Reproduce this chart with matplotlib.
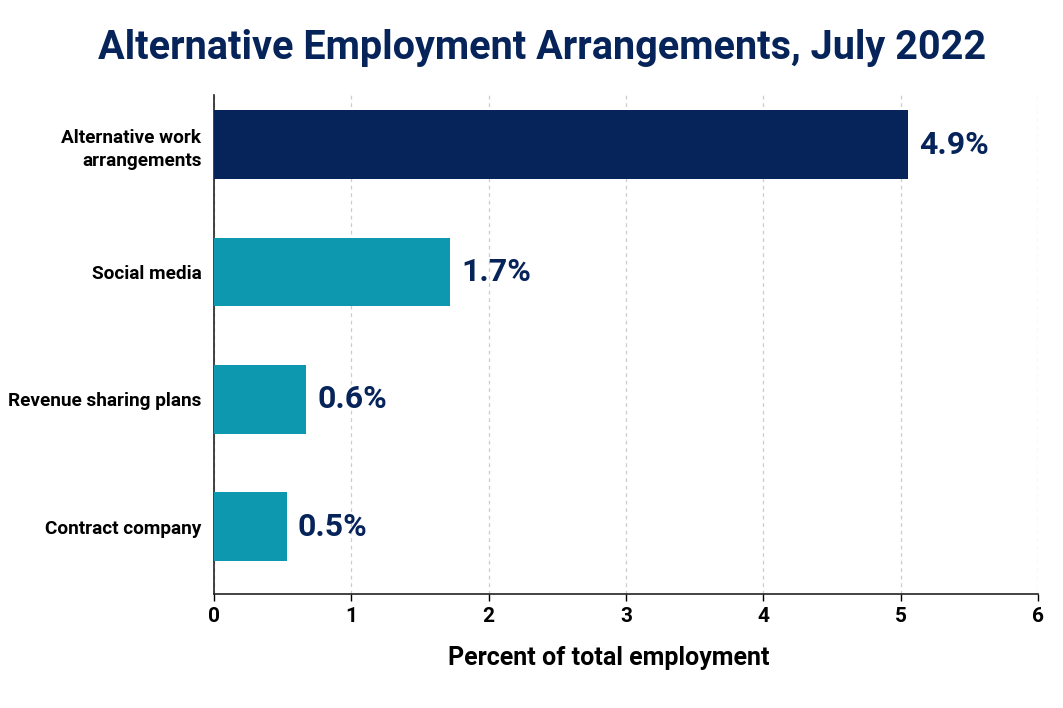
import matplotlib
matplotlib.use("Agg")
import matplotlib.pyplot as plt

categories = ["Alternative work\narrangements", "Social media", "Revenue sharing plans", "Contract company"]
bar_values = [5.05, 1.72, 0.67, 0.53]
value_labels = ["4.9%", "1.7%", "0.6%", "0.5%"]
xticks = [0, 1, 2, 3, 4, 5, 6]

NAVY = "#06245a"
TEAL = "#0e98b0"
colors = [NAVY, TEAL, TEAL, TEAL]

plt.rcParams['font.family'] = ['Roboto', 'DejaVu Sans']

fig = plt.figure(figsize=(10.63, 7.08), dpi=100)
ax = fig.add_axes([0.2013, 0.161, 0.7752, 0.7048])

y = list(range(len(categories)))
ax.barh(y, bar_values, height=0.54, color=colors, zorder=3)
for yi, v, lab in zip(y, bar_values, value_labels):
    ax.annotate(lab, (v, yi), xytext=(8, 0), textcoords="offset points",
                va="center", ha="left", fontsize=23, fontweight="bold", color=NAVY)

ax.set_xlim(0, 6)
ax.set_ylim(3.53, -0.39)
ax.set_xticks(xticks)
ax.set_xticklabels([str(t) for t in xticks], fontsize=15, fontweight="bold")
ax.set_yticks(y)
ax.set_yticklabels(categories, fontsize=13.7, fontweight="bold", ha="right",
                   multialignment="right", linespacing=1.35)
ax.tick_params(axis="y", length=0, pad=9)
ax.tick_params(axis="x", length=5, width=1, pad=4)
ax.grid(axis="x", linestyle=(0, (3, 3)), color="#cccccc", linewidth=0.9, zorder=0)
for s in ["top", "right"]:
    ax.spines[s].set_visible(False)
ax.spines["left"].set_linewidth(1.2)
ax.spines["bottom"].set_linewidth(1.2)
ax.spines["left"].set_color("#222222")
ax.spines["bottom"].set_color("#222222")
ax.set_xlabel("Percent of total employment", fontsize=18, fontweight="bold")
ax.xaxis.set_label_coords(0.479, -0.105)

fig.text(0.51, 0.932, "Alternative Employment Arrangements, July 2022", ha="center", va="center",
         fontsize=28.5, fontweight="bold", color=NAVY)

fig.savefig("out.png", dpi=100, facecolor="white")
